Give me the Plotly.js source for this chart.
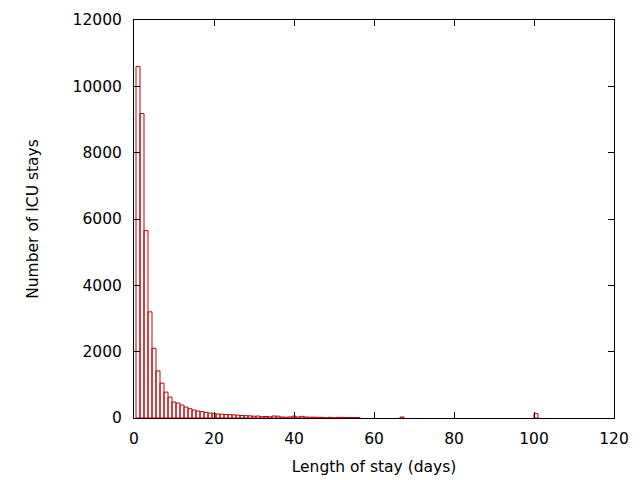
<!DOCTYPE html>
<html>
<head>
<meta charset="utf-8">
<script src="https://cdn.plot.ly/plotly-3.0.1.min.js"></script>
<style>html,body{margin:0;padding:0;background:#fff;}#chart{width:640px;height:480px;}</style>
</head>
<body>
<div id="chart"></div>
<script>
// Length of stay (days) bin centres and counts of ICU stays
const days = [1,2,3,4,5,6,7,8,9,10,11,12,13,14,15,16,17,18,19,20,21,22,23,24,25,26,27,28,29,30,31,32,33,34,35,36,37,38,39,40,41,42,43,44,45,46,47,48,49,50,51,52,53,54,55,56,67,100.5];
const stays = [10600,9180,5650,3200,2100,1420,1050,780,630,480,450,390,330,280,240,210,195,170,150,130,120,115,105,100,95,85,75,70,65,55,60,40,45,35,60,55,30,25,30,55,30,50,30,25,25,20,20,5,20,5,20,20,15,15,15,15,30,130];
const xTicks = [0,20,40,60,80,100,120];
const yTicks = [0,2000,4000,6000,8000,10000,12000];

const font = {family: 'DejaVu Sans, sans-serif', size: 15.5, color: '#000'};

Plotly.newPlot('chart', [{
  type: 'bar',
  x: days,
  y: stays,
  width: 1,
  marker: {color: 'rgba(255,255,255,0)', line: {color: '#c00000', width: 1}},
  hoverinfo: 'x+y'
}], {
  width: 640, height: 480,
  margin: {l: 134, r: 26, t: 20, b: 62},
  paper_bgcolor: '#fff', plot_bgcolor: '#fff',
  font: font,
  showlegend: false,
  bargap: 0,
  xaxis: {
    range: [0, 120], tickvals: xTicks, ticktext: xTicks.map(String),
    ticks: 'inside', ticklen: 6, tickcolor: '#000', tickwidth: 1,
    ticklabelstandoff: 6,
    showline: true, linecolor: '#000', linewidth: 1, mirror: 'ticks',
    showgrid: false, zeroline: false,
    title: {text: 'Length of stay (days)', font: font, standoff: 14}
  },
  yaxis: {
    range: [0, 12000], tickvals: yTicks, ticktext: yTicks.map(String),
    ticks: 'inside', ticklen: 6, tickcolor: '#000', tickwidth: 1,
    ticklabelstandoff: 8,
    showline: true, linecolor: '#000', linewidth: 1, mirror: 'ticks',
    showgrid: false, zeroline: false,
    title: {text: 'Number of ICU stays', font: font, standoff: 30}
  }
}, {displayModeBar: false, staticPlot: true});
</script>
</body>
</html>
